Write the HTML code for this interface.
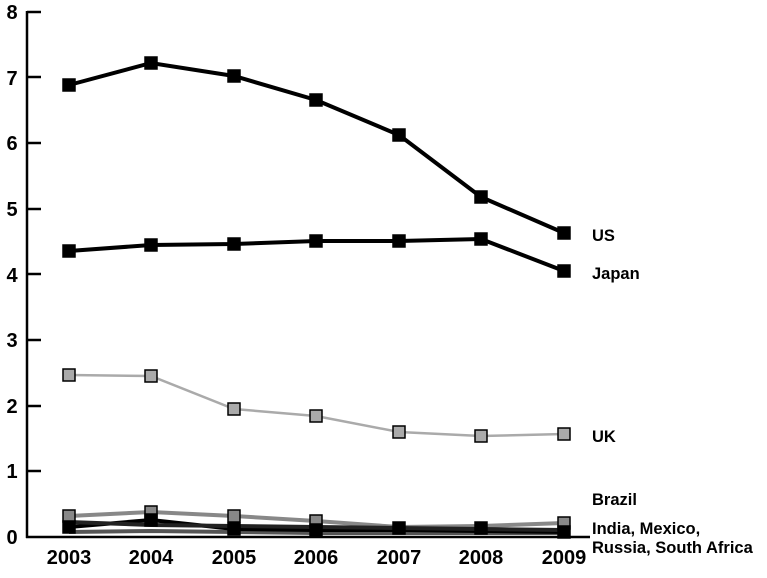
<!DOCTYPE html><html><head><style>body{margin:0;background:#fff}</style></head><body>
<svg width="767" height="573" xmlns="http://www.w3.org/2000/svg" font-family="Liberation Sans, sans-serif">
<rect width="767" height="573" fill="#fff"/>
<g stroke="#000" stroke-width="2.5">
<line x1="27" y1="11" x2="27" y2="538"/>
<line x1="26" y1="537" x2="590" y2="537"/>
<line x1="27" y1="12" x2="41" y2="12"/><line x1="27" y1="77" x2="41" y2="77"/>
<line x1="27" y1="143" x2="41" y2="143"/><line x1="27" y1="209" x2="41" y2="209"/>
<line x1="27" y1="274" x2="41" y2="274"/><line x1="27" y1="340" x2="41" y2="340"/>
<line x1="27" y1="406" x2="41" y2="406"/><line x1="27" y1="471" x2="41" y2="471"/>
</g>
<g font-size="20" text-anchor="middle" font-weight="bold">
<text x="12" y="19">8</text><text x="12" y="85">7</text><text x="12" y="150">6</text><text x="12" y="216">5</text><text x="12" y="282">4</text><text x="12" y="347">3</text><text x="12" y="413">2</text><text x="12" y="478">1</text><text x="12" y="544">0</text>
<text x="69" y="564">2003</text><text x="151" y="564">2004</text><text x="234" y="564">2005</text><text x="316" y="564">2006</text><text x="399" y="564">2007</text><text x="481" y="564">2008</text><text x="564" y="564">2009</text>
</g>
<g font-size="16.5" font-weight="bold">
<text x="592" y="241">US</text><text x="592" y="279">Japan</text><text x="592" y="442">UK</text><text x="592" y="505">Brazil</text>
<text x="592" y="534">India, Mexico,</text><text x="592" y="553">Russia, South Africa</text>
</g>
<g fill="none" stroke-width="4">
<polyline stroke="#888" points="69,516 151,512 234,516 316,521 399,527 481,526 564,523"/>
<polyline stroke="#555" points="69,532 151,531 234,532 316,533 399,533 481,533 564,533"/>
<polyline stroke="#000" points="69,527 151,520 234,529 316,530 399,530 481,531 564,532"/>
<polyline stroke="#222" points="69,522 151,525 234,526 316,527 399,528 481,529 564,530"/>
<polyline stroke="#aaa" stroke-width="2.5" points="69,375 151,376 234,409 316,416 399,432 481,436 564,434"/>
<polyline stroke="#000" points="69,251 151,245 234,244 316,241 399,241 481,239 564,271"/>
<polyline stroke="#000" points="69,85 151,63 234,76 316,100 399,135 481,197 564,233"/>
</g>
<g stroke="#000" stroke-width="1.5">
<g fill="#888"><rect x="63" y="510" width="12" height="12"/><rect x="145" y="506" width="12" height="12"/><rect x="228" y="510" width="12" height="12"/><rect x="310" y="515" width="12" height="12"/><rect x="558" y="517" width="12" height="12"/></g>
<g fill="#000"><rect x="63" y="521" width="12" height="12"/><rect x="145" y="514" width="12" height="12"/><rect x="228" y="523" width="12" height="12"/><rect x="310" y="524" width="12" height="12"/><rect x="393" y="522" width="12" height="12"/><rect x="475" y="522" width="12" height="12"/><rect x="558" y="526" width="12" height="12"/></g>
<g fill="#aaa"><rect x="63" y="369" width="12" height="12"/><rect x="145" y="370" width="12" height="12"/><rect x="228" y="403" width="12" height="12"/><rect x="310" y="410" width="12" height="12"/><rect x="393" y="426" width="12" height="12"/><rect x="475" y="430" width="12" height="12"/><rect x="558" y="428" width="12" height="12"/></g>
<g fill="#000"><rect x="63" y="245" width="12" height="12"/><rect x="145" y="239" width="12" height="12"/><rect x="228" y="238" width="12" height="12"/><rect x="310" y="235" width="12" height="12"/><rect x="393" y="235" width="12" height="12"/><rect x="475" y="233" width="12" height="12"/><rect x="558" y="265" width="12" height="12"/>
<rect x="63" y="79" width="12" height="12"/><rect x="145" y="57" width="12" height="12"/><rect x="228" y="70" width="12" height="12"/><rect x="310" y="94" width="12" height="12"/><rect x="393" y="129" width="12" height="12"/><rect x="475" y="191" width="12" height="12"/><rect x="558" y="227" width="12" height="12"/></g>
</g>
</svg>
</body></html>
